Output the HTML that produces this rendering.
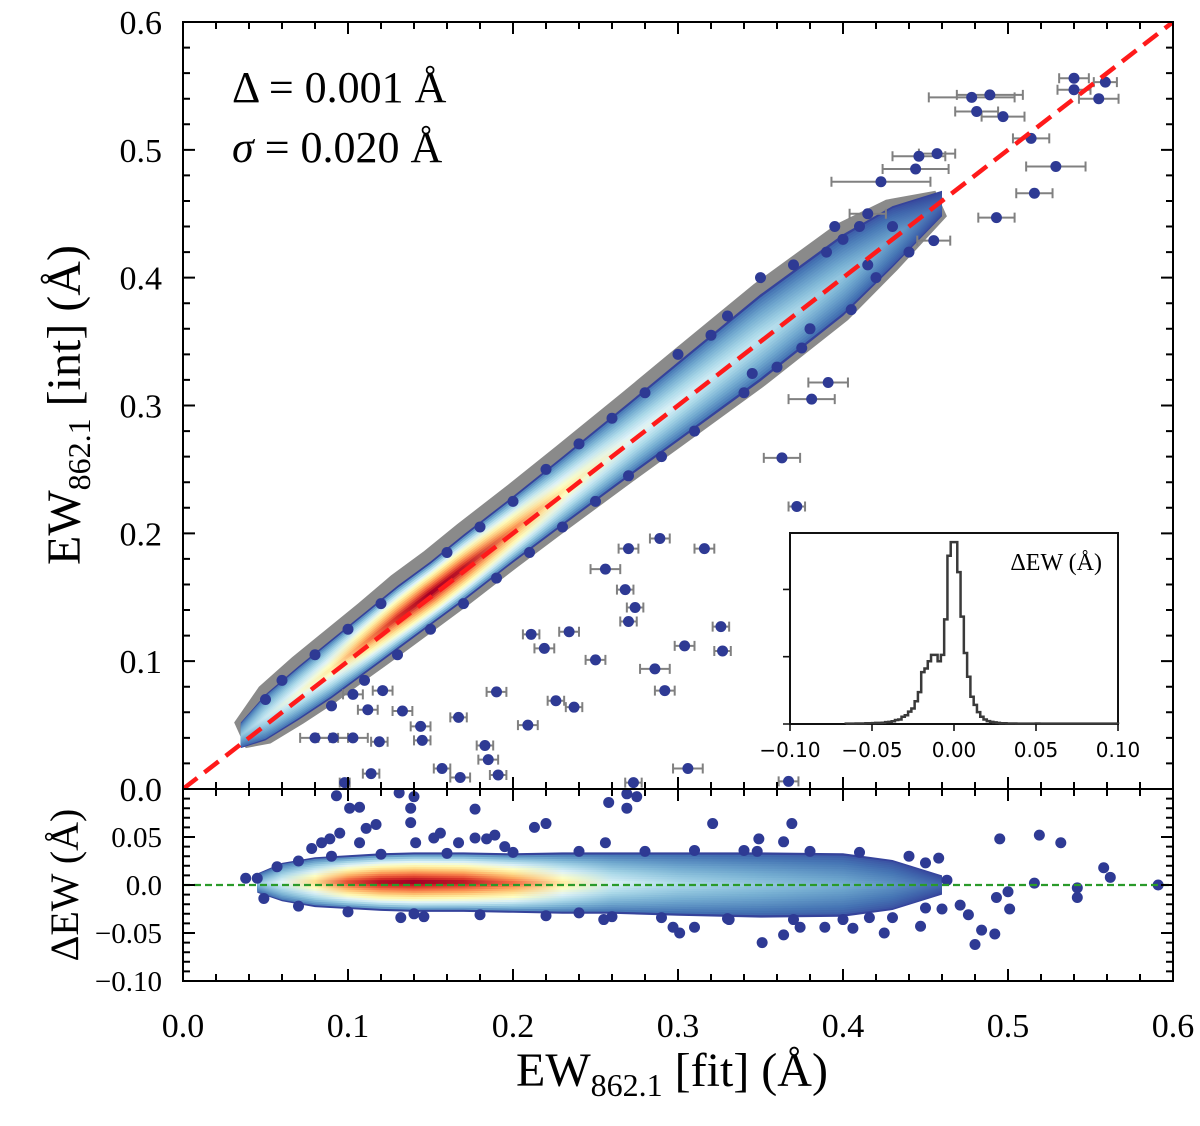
<!DOCTYPE html>
<html><head><meta charset="utf-8"><style>
html,body{margin:0;padding:0;background:#fff;}
svg{display:block;}
.serif{font-family:"Liberation Serif","DejaVu Serif",serif;}
.sans{font-family:"DejaVu Sans","Liberation Sans",sans-serif;}
</style></head><body>
<svg id="chart" width="1200" height="1126" viewBox="0 0 1200 1126" xmlns="http://www.w3.org/2000/svg">
<defs>
<clipPath id="clipTop"><rect x="183" y="22" width="990" height="767"/></clipPath>
<clipPath id="clipBot"><rect x="183" y="789" width="990" height="192"/></clipPath>
</defs>
<g id="topBand" clip-path="url(#clipTop)"></g>
<g id="topOut" clip-path="url(#clipTop)"></g>
<line id="oneToOne" stroke="#ff1a1a" stroke-width="4.5" stroke-dasharray="18,9" clip-path="url(#clipTop)"/>
<g id="botBand" clip-path="url(#clipBot)"></g>
<g id="botOut" clip-path="url(#clipBot)"></g>
<line id="zeroLine" stroke="#2a9a2a" stroke-width="2.2" stroke-dasharray="7,4"/>
<g id="axes"></g>
<g id="inset"></g>
<text class="serif" x="232" y="102" font-size="44">Δ = 0.001 Å</text>
<text class="serif" x="232" y="162" font-size="44"><tspan font-style="italic">σ</tspan> = 0.020 Å</text>
<text class="serif" x="672" y="1086" font-size="48" text-anchor="middle">EW<tspan font-size="32" dy="10">862.1</tspan><tspan dy="-10"> [fit] (Å)</tspan></text>
<text class="serif" transform="translate(80,405) rotate(-90)" font-size="48" text-anchor="middle">EW<tspan font-size="32" dy="10">862.1</tspan><tspan dy="-10"> [int] (Å)</tspan></text>
<text class="serif" transform="translate(78,885) rotate(-90)" font-size="40" text-anchor="middle">ΔEW (Å)</text>
</svg>
<script>
// ---- data ----
const xTicks = [0.0,0.1,0.2,0.3,0.4,0.5,0.6];
const xTickLabels = ["0.0","0.1","0.2","0.3","0.4","0.5","0.6"];
const yTicks = [0.0,0.1,0.2,0.3,0.4,0.5,0.6];
const yTickLabels = ["0.0","0.1","0.2","0.3","0.4","0.5","0.6"];
const rTicks = [0.05,0.0,-0.05,-0.10];
const rTickLabels = ["0.05","0.0","−0.05","−0.10"];
// main density cloud
const bandX    = [0.035,0.05,0.07,0.09,0.11,0.13,0.15,0.17,0.20,0.23,0.27,0.30,0.35,0.40,0.43,0.46];
const bandY    = [0.042,0.056,0.075,0.094,0.114,0.134,0.153,0.173,0.203,0.233,0.273,0.303,0.353,0.402,0.432,0.458];
const bandHW   = [0.010,0.018,0.021,0.023,0.024,0.025,0.025,0.026,0.026,0.027,0.029,0.031,0.034,0.032,0.024,0.010];
const bandPeak = [0.25,0.35,0.45,0.55,0.75,0.9,1.0,0.95,0.75,0.55,0.42,0.38,0.33,0.25,0.18,0.08];
const bandGray = [0.000,0.006,0.007,0.007,0.007,0.008,0.008,0.008,0.008,0.008,0.008,0.008,0.008,0.008,0.005,0.000];
// outliers (x, y, x-error)
const outX = [0.372,0.316,0.270,0.289,0.256,0.268,0.211,0.234,0.219,0.250,0.286,0.304,0.326,0.292,0.327,0.270,0.274,0.306,0.273,0.237,0.226,0.190,0.209,0.167,0.145,0.183,0.157,0.114,0.098,0.119,0.080,0.091,0.103,0.112,0.133,0.144,0.121,0.103,0.191,0.185,0.367,0.168,
  0.540,0.559,0.555,0.540,0.478,0.489,0.481,0.497,0.514,0.529,0.516,0.493,0.455,0.423,0.391,0.381,0.363,0.415,0.444,0.446,0.457];
const outY = [0.221,0.188,0.188,0.196,0.172,0.156,0.121,0.123,0.110,0.101,0.094,0.112,0.127,0.077,0.108,0.131,0.142,0.016,0.005,0.064,0.069,0.076,0.050,0.056,0.038,0.034,0.016,0.012,0.005,0.037,0.040,0.040,0.040,0.062,0.061,0.049,0.077,0.074,0.011,0.023,0.006,0.009,
  0.556,0.553,0.540,0.547,0.541,0.543,0.530,0.526,0.509,0.487,0.466,0.447,0.429,0.475,0.318,0.305,0.259,0.450,0.485,0.495,0.497];
const outErr = [0.005,0.006,0.006,0.006,0.009,0.005,0.005,0.006,0.006,0.006,0.009,0.006,0.005,0.006,0.005,0.005,0.005,0.009,0.005,0.005,0.005,0.006,0.006,0.005,0.005,0.005,0.005,0.005,0.003,0.005,0.009,0.009,0.009,0.006,0.006,0.006,0.006,0.006,0.005,0.006,0.006,0.006,
  0.009,0.007,0.012,0.010,0.026,0.020,0.013,0.013,0.011,0.018,0.011,0.011,0.010,0.030,0.012,0.014,0.011,0.011,0.020,0.016,0.011];
// points on cloud edges (no visible bars)
const edgeX = [0.33,0.35,0.37,0.39,0.40,0.41,0.30,0.28,0.26,0.24,0.22,0.34,0.36,0.31,0.29,0.27,0.25,0.23,0.38,0.42,0.44,0.43,0.20,0.18,0.16,0.12,0.10,0.08,0.06,0.05,0.09,0.11,0.13,0.15,0.17,0.19,0.21,0.32,0.345,0.375,0.405,0.415,0.395];
const edgeY = [0.370,0.400,0.410,0.420,0.430,0.440,0.340,0.310,0.290,0.270,0.250,0.310,0.330,0.280,0.260,0.245,0.225,0.205,0.360,0.400,0.420,0.440,0.225,0.205,0.185,0.145,0.125,0.105,0.085,0.070,0.065,0.085,0.105,0.125,0.145,0.165,0.185,0.355,0.325,0.345,0.375,0.410,0.440];
// residual cloud
const resX    = [0.045,0.06,0.08,0.10,0.12,0.14,0.17,0.20,0.23,0.26,0.30,0.35,0.40,0.43,0.46];
const resC    = [0.002,0.003,0.003,0.003,0.003,0.003,0.003,0.002,0.002,0.002,0.001,0.000,0.000,0.000,0.000];
const resHW   = [0.010,0.020,0.026,0.028,0.030,0.031,0.031,0.031,0.032,0.032,0.033,0.034,0.033,0.026,0.010];
const resPeak = [0.25,0.4,0.6,0.85,0.97,1.0,0.95,0.8,0.55,0.38,0.3,0.25,0.2,0.15,0.08];
// residual scattered points
const resPtX = [0.093,0.101,0.107,0.131,0.140,0.138,0.177,0.138,0.111,0.117,0.095,0.078,0.084,0.089,0.107,0.156,0.141,0.152,0.167,0.177,0.184,0.189,0.195,0.213,0.220,0.258,0.269,0.275,0.269,0.256,0.321,0.369,0.349,0.364,0.348,0.495,0.519,0.532,0.558,0.562,0.516,0.591,0.542,0.542,0.500,0.493,0.501,0.484,0.492,0.480,0.476,0.471,0.458,0.450,0.463,0.450,0.447,0.425,0.416,0.406,0.389,0.374,0.364,0.351,0.331,0.310,0.301,0.297,0.255,0.240,0.132,0.146,0.038,0.045,0.057,0.049,
  0.07,0.09,0.12,0.16,0.20,0.24,0.28,0.31,0.34,0.38,0.41,0.44,0.07,0.10,0.14,0.18,0.22,0.26,0.29,0.33,0.37,0.40,0.43,0.46];
const resPtY = [0.093,0.080,0.081,0.096,0.092,0.080,0.079,0.065,0.059,0.063,0.054,0.038,0.044,0.048,0.044,0.054,0.044,0.049,0.044,0.049,0.048,0.052,0.040,0.060,0.064,0.086,0.095,0.092,0.080,0.044,0.064,0.064,0.048,0.045,0.035,0.048,0.052,0.044,0.018,0.008,0.002,0.000,-0.003,-0.013,-0.007,-0.013,-0.025,-0.047,-0.051,-0.062,-0.031,-0.021,0.028,0.023,0.005,-0.024,-0.043,-0.050,-0.034,-0.045,-0.044,-0.044,-0.052,-0.060,-0.036,-0.044,-0.050,-0.044,-0.036,-0.029,-0.034,-0.033,0.007,0.007,0.019,-0.014,
  0.025,0.030,0.032,0.033,0.034,0.035,0.035,0.036,0.036,0.035,0.034,0.030,-0.022,-0.028,-0.030,-0.031,-0.032,-0.033,-0.034,-0.035,-0.036,-0.036,-0.034,-0.025];
// inset histogram
const histStart = -0.066;
const histStep = 0.002;
const histCounts = [2,2,2,3,3,3,4,4,5,6,6,7,10,12,15,22,25,40,48,68,85,125,175,285,305,345,380,380,345,380,575,925,1000,1000,835,590,390,260,150,105,65,40,25,16,12,9,6,4,4,3,3,3,2,2,2,2,2,2,3,2,2,2,2,2,2,2,2,2,2,2,2,2,2,2,2,2,2,2,2,2,2,2,2];
const histTicks = [-0.10,-0.05,0.0,0.05,0.10];
const histTickLabels = ["−0.10","−0.05","0.00","0.05","0.10"];
const histYTicks = [0,370,740];

// ---- scales ----
const X0=183, X1=1173;
const px = v => X0 + v*(X1-X0)/0.6;
const py = v => 789 - v*767/0.6;
const pr = v => 885 - v*960;
const ix = v => 790 + (v+0.1)/0.2*328;
const iy = v => 724 - v/1050*191;
const NS = "http://www.w3.org/2000/svg";
function mk(tag, attrs, parent){const e=document.createElementNS(NS,tag);for(const k in attrs)e.setAttribute(k,attrs[k]);parent.appendChild(e);return e;}

const cmapStops=[[0,'#313695'],[0.1,'#4575b4'],[0.2,'#74add1'],[0.3,'#abd9e9'],[0.4,'#e0f3f8'],[0.5,'#ffffbf'],[0.6,'#fee090'],[0.7,'#fdae61'],[0.8,'#f46d43'],[0.9,'#d73027'],[1,'#a50026']];
function hex(h){return [parseInt(h.substr(1,2),16),parseInt(h.substr(3,2),16),parseInt(h.substr(5,2),16)];}
function cmap(v){v=Math.max(0,Math.min(1,v));for(let i=1;i<cmapStops.length;i++){if(v<=cmapStops[i][0]){const a=cmapStops[i-1],b=cmapStops[i];const t=(v-a[0])/(b[0]-a[0]);const ca=hex(a[1]),cb=hex(b[1]);return 'rgb('+ca.map((c,k)=>Math.round(c+(cb[k]-c)*t)).join(',')+')';}}return cmapStops[cmapStops.length-1][1];}

const defs=document.querySelector('defs');
function drawBand(g, xs, cs, hws, peaks, fx, fy, idp, N){
  const p0=[fx(xs[0]),fy(cs[0])], p1=[fx(xs[xs.length-1]),fy(cs[cs.length-1])];
  const dx=p1[0]-p0[0], dy=p1[1]-p0[1], L2=dx*dx+dy*dy;
  for(let j=0;j<N;j++){
    const f=1-j/N;
    const grad=mk('linearGradient',{id:idp+j,gradientUnits:'userSpaceOnUse',x1:p0[0],y1:p0[1],x2:p1[0],y2:p1[1]},defs);
    xs.forEach((x,i)=>{const q=[fx(x)-p0[0],fy(cs[i])-p0[1]];const t=Math.max(0,Math.min(1,(q[0]*dx+q[1]*dy)/L2));
      const v= j===0?0.02:peaks[i]*Math.pow(j/(N-1),0.9)+0.08*(1-j/(N-1))*Math.min(1,peaks[i]*3);
      mk('stop',{offset:t,'stop-color':cmap(v)},grad);});
    let up=[],dn=[];
    xs.forEach((x,i)=>{up.push(fx(x).toFixed(1)+','+fy(cs[i]+hws[i]*f).toFixed(1));dn.unshift(fx(x).toFixed(1)+','+fy(cs[i]-hws[i]*f).toFixed(1));});
    const poly=mk('polygon',{points:up.concat(dn).join(' '),fill:'url(#'+idp+j+')'},g);
    
    
  }
}

// gray error-bar fringe
(function(){
  const g=document.getElementById('topBand');
  let up=[],dn=[];
  bandX.forEach((x,i)=>{up.push(px(x-0.004)+','+py(bandY[i]+bandHW[i]+bandGray[i]));dn.unshift(px(x+0.003)+','+py(bandY[i]-bandHW[i]-bandGray[i]*0.4));});
  const p=mk('polygon',{points:up.concat(dn).join(' '),fill:'#8a8a8a'},g);
  
  
  drawBand(g,bandX,bandY,bandHW,bandPeak,px,py,'gt',14);
})();
drawBand(document.getElementById('botBand'),resX,resC,resHW,resPeak,px,pr,'gb',14);

// outliers top
(function(){
  const g=document.getElementById('topOut');
  outX.forEach((x,i)=>{
    const y=py(outY[i]),a=px(x-outErr[i]),b=px(x+outErr[i]);
    const eb=mk('path',{d:`M${a},${y}H${b}M${a},${y-5}V${y+5}M${b},${y-5}V${y+5}`,stroke:'#808080','stroke-width':2,fill:'none'},g);
    
    
  });
  edgeX.forEach((x,i)=>{
    const c=mk('circle',{cx:px(x),cy:py(edgeY[i]),r:5.5,fill:'#2e3a94'},g);
    
    
  });
  outX.forEach((x,i)=>{
    const c=mk('circle',{cx:px(x),cy:py(outY[i]),r:5.5,fill:'#2e3a94'},g);
    
    
  });
})();
(function(){
  const g=document.getElementById('botOut');
  resPtX.forEach((x,i)=>{
    const c=mk('circle',{cx:px(x),cy:pr(resPtY[i]),r:5.5,fill:'#2e3a94'},g);
    
    
  });
})();
const l1=document.getElementById('oneToOne');
l1.setAttribute('x1',px(0));l1.setAttribute('y1',py(0));l1.setAttribute('x2',px(0.6));l1.setAttribute('y2',py(0.6));
const zl=document.getElementById('zeroLine');
zl.setAttribute('x1',X0);zl.setAttribute('x2',X1);zl.setAttribute('y1',pr(0));zl.setAttribute('y2',pr(0));

// axes
(function(){
  const g=document.getElementById('axes');
  const fr=[[22,789],[789,981]];
  fr.forEach(f=>{const r=mk('rect',{x:X0,y:f[0],width:X1-X0,height:f[1]-f[0],fill:'none',stroke:'#000','stroke-width':2},g);
    
    });
  let d='';
  for(let k=0;k<=30;k++){const v=k*0.02;const x=px(v);const maj=(k%5===0);const L=maj?12:7;
    d+=`M${x},789V${789-L}M${x},22V${22+L}M${x},789V${789+L}M${x},981V${981-L}`;}
  for(let k=0;k<=30;k++){const v=k*0.02;const y=py(v);const L=(k%5===0)?12:7;d+=`M${X0},${y}H${X0+L}M${X1},${y}H${X1-L}`;}
  for(let k=-10;k<=10;k++){const y=pr(k*0.01);const L=(k%5===0)?12:7;d+=`M${X0},${y}H${X0+L}M${X1},${y}H${X1-L}`;}
  const t=mk('path',{d:d,stroke:'#000','stroke-width':2,fill:'none'},g);
  
  
  xTicks.forEach((v,i)=>{const e=mk('text',{x:px(v),y:1037,'font-size':34,'text-anchor':'middle',class:'serif'},g);e.textContent=xTickLabels[i];
    
    });
  yTicks.forEach((v,i)=>{const e=mk('text',{x:162,y:py(v)+12,'font-size':34,'text-anchor':'end',class:'serif'},g);e.textContent=yTickLabels[i];
    
    });
  rTicks.forEach((v,i)=>{const e=mk('text',{x:162,y:pr(v)+10,'font-size':29,'text-anchor':'end',class:'serif'},g);e.textContent=rTickLabels[i];
    
    });
})();

// inset
(function(){
  const g=document.getElementById('inset');
  const bg=mk('rect',{x:790,y:533,width:328,height:191,fill:'#fff',stroke:'#111','stroke-width':2},g);
  
  
  let d=`M${ix(histStart)},${iy(0)}`;
  histCounts.forEach((c,i)=>{const a=histStart+i*histStep;const x1=ix(a+histStep);const y=iy(c);d+=`V${y}H${x1}`;});
  d+=`V${iy(0)}`;
  const h=mk('path',{d:d,stroke:'#3a3a3a','stroke-width':2.5,fill:'none'},g);
  
  
  let td='';
  histTicks.forEach(v=>{td+=`M${ix(v)},724v7`;});
  histYTicks.forEach(v=>{td+=`M790,${iy(v)}h-7`;});
  const t=mk('path',{d:td,stroke:'#111','stroke-width':1.6,fill:'none'},g);
  
  
  histTicks.forEach((v,i)=>{const e=mk('text',{x:ix(v),y:757,'font-size':20,'text-anchor':'middle',class:'sans'},g);e.textContent=histTickLabels[i];
    
    });
  const lab=mk('text',{x:1102,y:570,'font-size':24,'text-anchor':'end',class:'serif'},g);
  lab.textContent='ΔEW (Å)';
  
  
})();
</script>
</body></html>
